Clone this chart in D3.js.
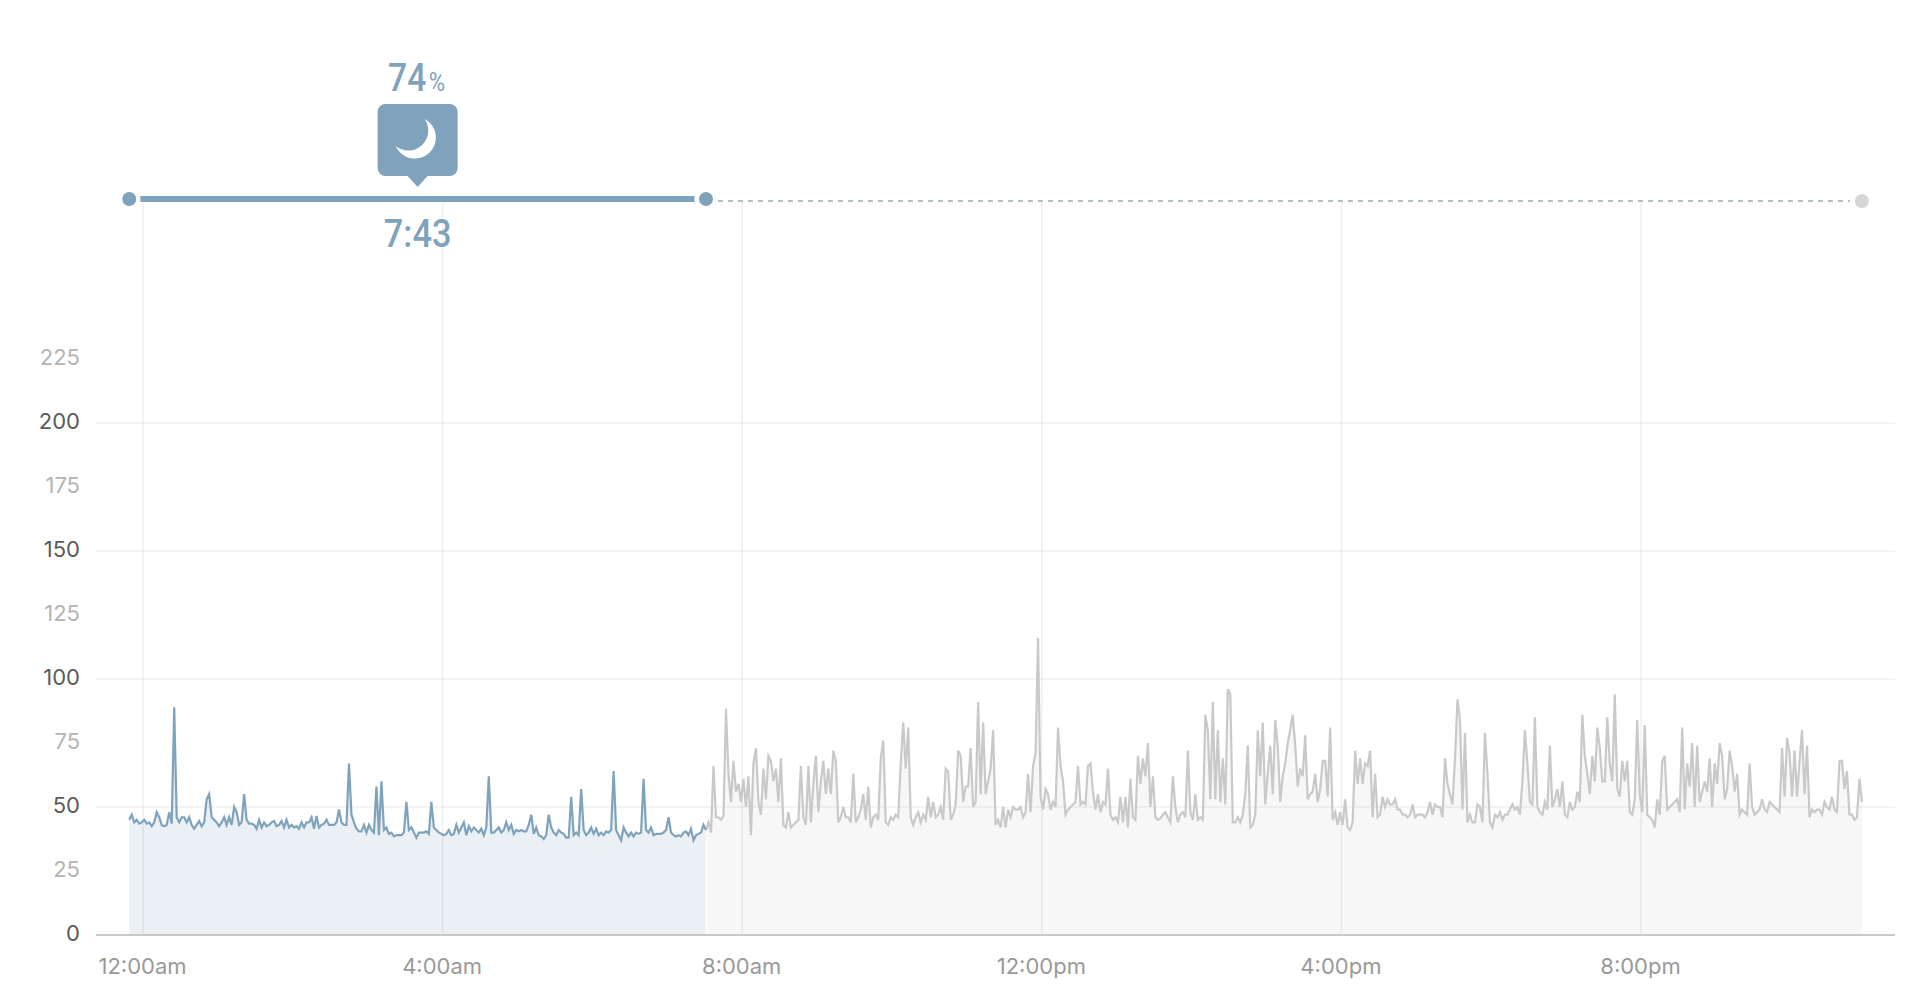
<!DOCTYPE html>
<html lang="en">
<head>
    <meta charset="UTF-8">
    <title>Heart rate over the day</title>
    <script src="https://d3js.org/d3.v7.min.js"></script>
    <style>
        body {
            margin: 0;
            background: #fff;
        }
        svg {
            display: block;
        }
        .axis text {
            font-family: Inter, sans-serif;
        }
        .stat {
            font-family: Roboto, sans-serif;
            font-weight: 500;
            fill: #7fa3bc;
            text-anchor: middle;
        }
    </style>
</head>
<body>
    <div id="chart"></div>
    <script>
        // Readings every 2 minutes, starting just before midnight
        const firstMinute = -11;
        const sampleMinutes = 2;

        const sleepValues = [
            45,47,44,45,43.5,44,45,43.5,44,42.5,
            44,48,46,43,42.5,43,48,43.5,89,46,
            44,46,46,44,46,43,41.5,43,44.5,42.5,
            44,53,55,46,45,44,42.5,44,46,43,
            46,43,50,48,43,44,55,45,43.5,43.5,
            43,41.5,45,42,44,42.5,43,44,44.5,42.5,
            43,44.5,42,45,42,43,42,42.5,41.5,44,
            42,44,44,46,41.5,46.5,42,43,43.5,45,
            43,43,43,44,49,44,43,43,67,47,
            44,41.5,40.5,40.5,43,40,43,41,40,58,
            39,60,41,42,39.5,40,38.5,39,39,39,
            40,52,41,42,40,38,40,40,40,40.5,
            39.5,52,42,41,40,39.5,39,39.5,41,39,
            39.5,43,40,42,44,39,42.5,40.5,42,41,
            40,41.5,39,42,62,40,40,41,42,40,
            41,44,41,43,39.5,41,40.5,41,40.5,40.5,
            43,47,39.5,42,39,38.5,37.5,39,47,42,
            40,39,41,40,39.5,38,38,54,39,40,
            39,57,41,39,40,42,39.5,41.5,39,40,
            39,40.5,40,41,64,41,39,37,42,40,
            38.5,40,38.5,40,39.5,40,61,41,40,42,
            39,39.5,39.5,39.5,40,41,46,40,39,38.5,
            39,38.5,40,40.5,39,41.5,37,39,39.5,40,
            43,41
        ];

        // Continues from the last sleep reading
        const awakeValues = [
            41,44,40,66,46,46,45,46.5,88.5,
            63,52,68,56,59,52,61,50,62,39,
            67,73,52,47,65,53,70,68,60,65,
            52,69,43,42,48,42,43,44,45,66,
            46,43,66,44,59,70,48,60,68,55,
            65,55,72,68,44,46,50,46,46,44,
            63,44,46,49,55,45,58,42,46,47,
            45,69,76,44,43,46,45,47,46,67,
            83,65,81,46,43,46,48,44,47,45,
            54,46,52,46,47,50,45,65,64,45,
            47,51,72,70,52,58,58,73,50,52,
            91,55,83,55,60,65,80,43,45,42,
            50,42,49,46,50,49,49,50,46,48,
            63,48,66,71,116,54,49,57,55,49,
            52,50,81,66,60,47,49,50,51,52,
            66,51,52,51,66,67,56,49,55,48,
            52,51,65,47,45,46,44,54,44,54,
            42,61,46,45,70,59,69,62,75,50,
            62,46,45,45.5,47,48,46,44,62,50,
            44,47,48,46,72,48,45,55,45,46,
            45,86,80,53,91,53,80,52,69,51,
            96,94,44,44,46,44,47,55,74,42,
            43,47,80,62,83,51,63,74,55,84,
            74,52,62,67,75,80,86,74,58,65,
            62,78,53,55,56,63,52,57,68,68,
            54,81,45,48,43,48,43,53,42,41,
            44,72,59,69,59,67,66,72,46,63,
            46,47,54,50,53,51,51,53,49,49,
            47,47,46,47,51,46,47,47,47,46,
            48,52,47,51,50,50,46,69,59,55,
            51,69,92,84,49,79,44,47,44,44,
            51,50,44,79,63,44,42,47,46,48,
            45,47,47,49,51,49,50,47,60,80,
            67,52,51,85,50,48,47,52,49,74,
            50,53,57,50,60,47,46,52,49,50,
            56,52,86,70,63,55,70,60,81,73,
            60,60,85,67,60,94,57,54,68,60,
            68,48,47,53,84,55,48,82,47,46,
            45,42,53,47,68,70,49,50,51,52,
            53,48,81,49,67,58,75,50,74,52,
            56,60,56,69,50,67,59,75,70,53,
            57,72,66,56,63,47,49,48,47,67,
            50,47,48,49,53,49,48,52,51,50,
            49,48,73,54,77,71,54,72,54,68,
            80,55,74,46,49,48,49,49,47,52,
            50,49,54,49,48,68,68,57,64,47,
            47,45,46,61,52
        ];

        const xTickMinutes = [0, 240, 480, 720, 960, 1200];
        const xTickLabels = ["12:00am", "4:00am", "8:00am", "12:00pm", "4:00pm", "8:00pm"];
        const yTicks = [0, 25, 50, 75, 100, 125, 150, 175, 200, 225];
        const yGridTicks = [50, 100, 150, 200];

        const sleepPercent = "74";
        const sleepDuration = "7:43";

        const width = 1920;
        const height = 992;
        const plotLeft = 96;
        const plotRight = 1895;
        const headerY = 199;
        const awakeHeaderY = 201;

        const sleepColor = "#7fa3bc";
        const awakeColor = "#c9c9c9";

        const x = d3.scaleLinear().domain([0, 1200]).range([143, 1641]);
        const y = d3.scaleLinear().domain([0, 225]).range([935, 359]);

        const sleepStart = firstMinute;
        const sleepEnd = firstMinute + (sleepValues.length - 1) * sampleMinutes;
        const dayEnd = sleepEnd + (awakeValues.length - 1) * sampleMinutes;

        const sleepData = sleepValues.map((v, i) => ({ t: sleepStart + i * sampleMinutes, v }));
        const awakeData = awakeValues.map((v, i) => ({ t: sleepEnd + i * sampleMinutes, v }));

        const svg = d3.select("#chart")
            .append("svg")
            .attr("width", width)
            .attr("height", height);

        const area = d3.area().x(d => x(d.t)).y0(y(0)).y1(d => y(d.v));
        const line = d3.line().x(d => x(d.t)).y(d => y(d.v));

        // Filled areas sit under the grid so the grid shows through them
        svg.append("path").attr("d", area(sleepData)).attr("fill", "#ebf0f4");
        svg.append("path").attr("d", area(awakeData)).attr("fill", "#f7f7f7");
        svg.append("line")
            .attr("x1", x(sleepEnd) + 0.5).attr("x2", x(sleepEnd) + 0.5)
            .attr("y1", y(45)).attr("y2", y(0))
            .attr("stroke", "#fff")
            .attr("stroke-width", 1.5);

        // Grid
        svg.append("g").selectAll("line")
            .data(xTickMinutes)
            .enter()
            .append("line")
            .attr("x1", d => x(d)).attr("x2", d => x(d))
            .attr("y1", awakeHeaderY).attr("y2", y(0))
            .attr("stroke", "#000")
            .attr("stroke-opacity", 0.06)
            .attr("stroke-width", 1.5);

        svg.append("g").selectAll("line")
            .data(yGridTicks)
            .enter()
            .append("line")
            .attr("x1", plotLeft).attr("x2", plotRight)
            .attr("y1", d => y(d)).attr("y2", d => y(d))
            .attr("stroke", "#000")
            .attr("stroke-opacity", 0.06)
            .attr("stroke-width", 1.5);

        // Heart rate lines
        svg.append("path").attr("d", line(awakeData))
            .attr("fill", "none").attr("stroke", awakeColor).attr("stroke-width", 2.2);
        svg.append("path").attr("d", line(sleepData))
            .attr("fill", "none").attr("stroke", sleepColor).attr("stroke-width", 2.2);

        // Axes
        const yAxis = svg.append("g")
            .attr("class", "axis")
            .attr("transform", `translate(${plotLeft}, 0)`)
            .call(d3.axisLeft(y).tickValues(yTicks).tickSize(0).tickPadding(16));
        yAxis.select(".domain").remove();
        yAxis.selectAll("text")
            .attr("dy", "5px")
            .style("font-size", "22px")
            .attr("fill", d => d % 50 === 0 ? "#5a5a5a" : "#b4b4b4");

        const xAxis = svg.append("g")
            .attr("class", "axis")
            .attr("transform", `translate(0, ${y(0)})`)
            .call(d3.axisBottom(x)
                .tickValues(xTickMinutes)
                .tickSize(0)
                .tickFormat((d, i) => xTickLabels[i]));
        xAxis.select(".domain").remove();
        xAxis.selectAll("text")
            .attr("y", 39)
            .attr("dy", 0)
            .attr("dx", -1)
            .style("font-size", "22px")
            .attr("fill", "#999");

        svg.append("line")
            .attr("x1", plotLeft).attr("x2", plotRight)
            .attr("y1", y(0)).attr("y2", y(0))
            .attr("stroke", "#c8c8c8")
            .attr("stroke-width", 2);

        // Sleep header: bar with end dots, bubble and labels
        const sleepMid = x((sleepStart + sleepEnd) / 2);

        svg.append("line")
            .attr("x1", x(sleepStart) + 11).attr("x2", x(sleepEnd) - 11.5)
            .attr("y1", headerY).attr("y2", headerY)
            .attr("stroke", sleepColor)
            .attr("stroke-width", 6);

        svg.append("g").selectAll("circle")
            .data([sleepStart, sleepEnd])
            .enter()
            .append("circle")
            .attr("cx", d => x(d))
            .attr("cy", headerY)
            .attr("r", 7)
            .attr("fill", sleepColor);

        svg.append("line")
            .attr("x1", x(sleepEnd) + 12).attr("x2", x(dayEnd) - 12)
            .attr("y1", awakeHeaderY).attr("y2", awakeHeaderY)
            .attr("stroke", "#b5bfc0")
            .attr("stroke-width", 2)
            .attr("stroke-dasharray", "5 5");

        svg.append("circle")
            .attr("cx", x(dayEnd))
            .attr("cy", awakeHeaderY)
            .attr("r", 7)
            .attr("fill", "#d6d6d6");

        const bubble = svg.append("g").attr("transform", `translate(${sleepMid}, 0)`);
        bubble.append("path")
            .attr("d", "M-32 104H32a8 8 0 0 1 8 8V168a8 8 0 0 1 -8 8H10L0 187L-10 176H-32a8 8 0 0 1 -8 -8V112a8 8 0 0 1 8 -8Z")
            .attr("fill", sleepColor);
        bubble.append("path")
            .attr("d", "M7 119A21 21 0 1 1 -22 146A20 20 0 0 0 7 119Z")
            .attr("fill", "#fff");

        // The condensed look of the header numbers comes from a horizontal squeeze
        const percentText = svg.append("text")
            .attr("class", "stat")
            .attr("transform", `translate(${sleepMid - 1}, 91) scale(0.86, 1)`)
            .style("font-size", "39px");
        percentText.append("tspan").text(sleepPercent);
        percentText.append("tspan")
            .attr("dx", 3)
            .style("font-size", "26px")
            .style("font-weight", "400")
            .text("%");

        svg.append("text")
            .attr("class", "stat")
            .attr("transform", `translate(${sleepMid}, 247) scale(0.88, 1)`)
            .style("font-size", "39px")
            .text(sleepDuration);
    </script>
</body>
</html>
